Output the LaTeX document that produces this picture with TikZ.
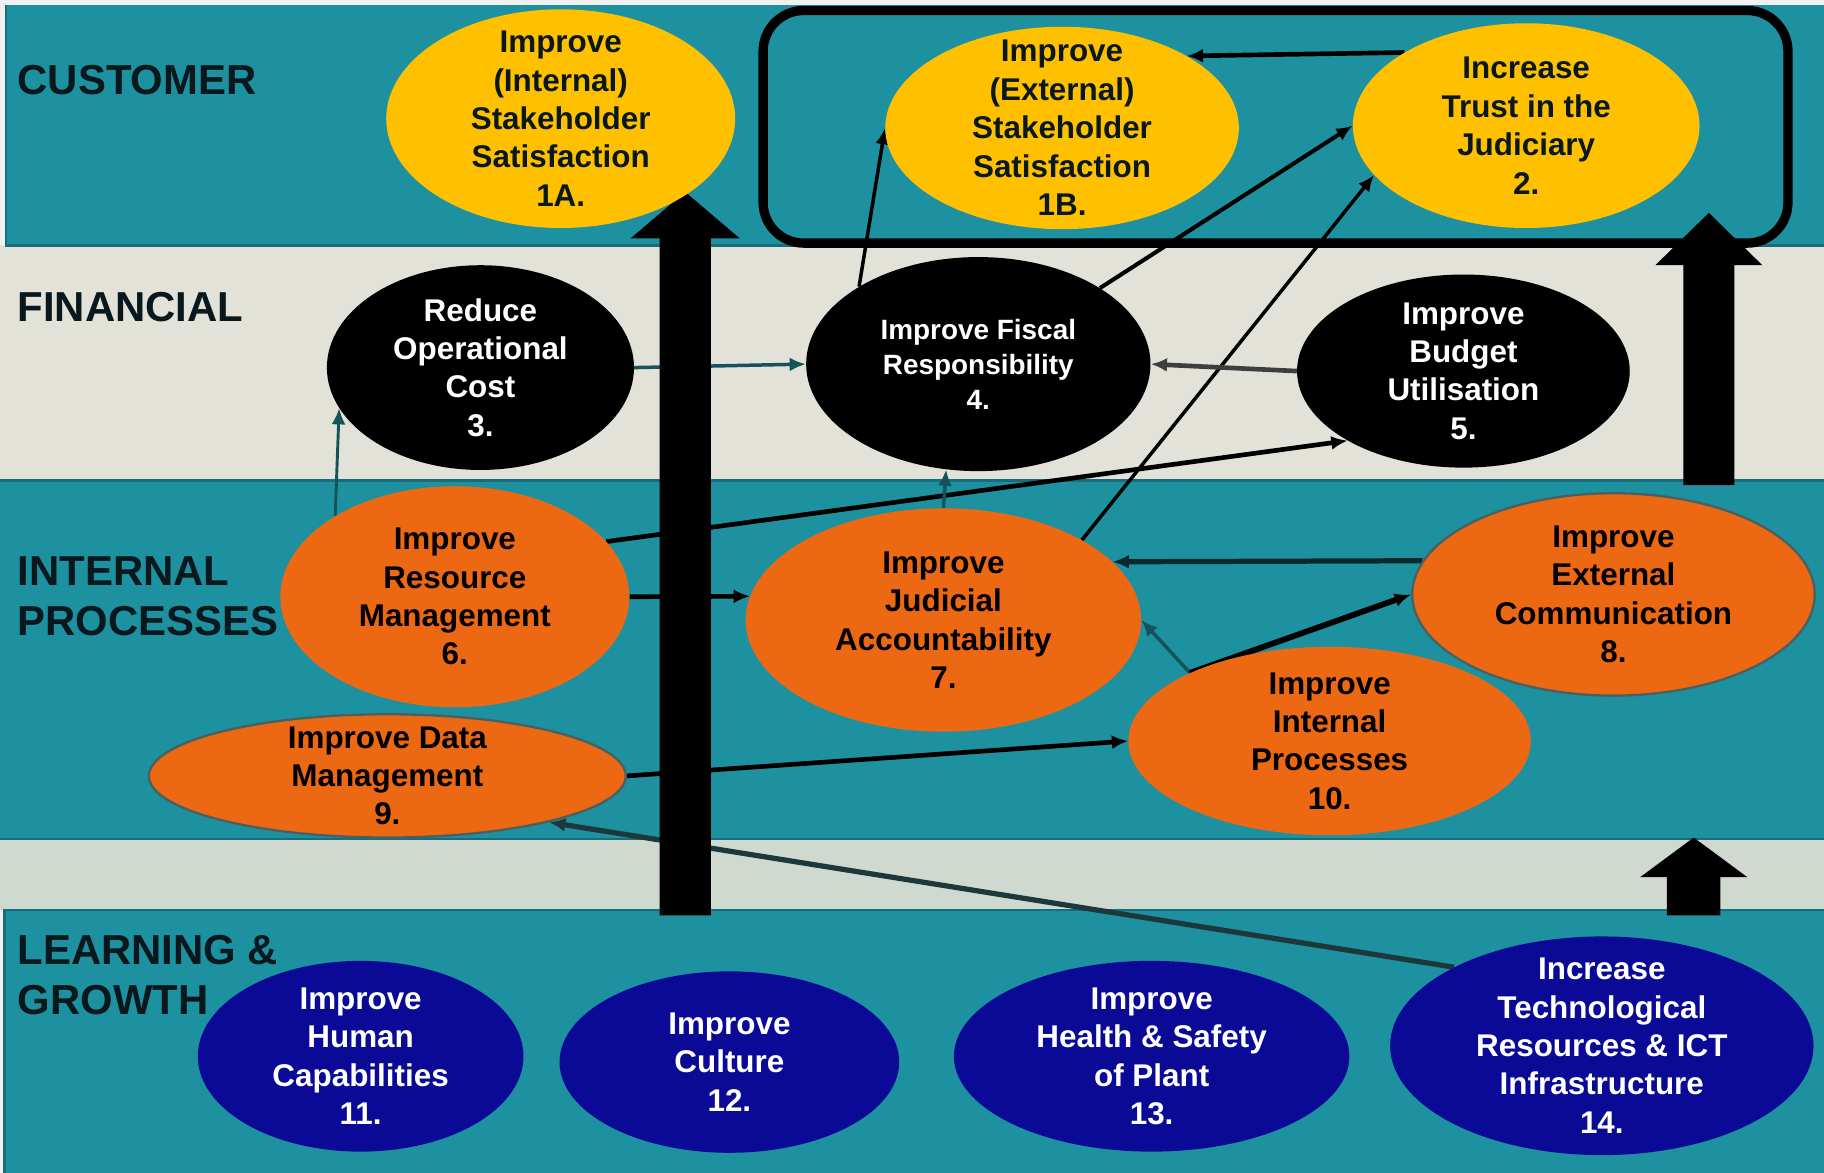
\documentclass[tikz,border=0pt]{standalone}
\usepackage{fontspec}
\setmainfont{Liberation Sans}
\usetikzlibrary{arrows.meta,shapes.geometric}

\definecolor{bandteal}{RGB}{30,145,160}
\definecolor{bandedge}{RGB}{22,110,124}
\definecolor{bandgrey}{RGB}{226,226,217}
\definecolor{bandpale}{RGB}{208,217,208}
\definecolor{goalyellow}{RGB}{255,192,0}
\definecolor{goalorange}{RGB}{236,104,18}
\definecolor{goalblue}{RGB}{10,10,150}
\definecolor{linkteal}{RGB}{20,82,92}
\definecolor{linkgrey}{RGB}{62,62,62}
\definecolor{linkdark}{RGB}{10,40,46}
\definecolor{linkslate}{RGB}{28,56,58}
\definecolor{labelink}{RGB}{8,24,28}

\pgfdeclarelayer{bg}
\pgfsetlayers{bg,main}

\begin{document}
\begin{tikzpicture}[x=1pt,y=-1pt,
  goal/.style={ellipse, inner sep=-30pt, align=center,
    font=\fontsize{27}{33}\selectfont\bfseries},
  customer/.style={goal, fill=goalyellow, text=labelink},
  financial/.style={goal, fill=black, text=white},
  process/.style={goal, fill=goalorange, text=black},
  rimmed/.style={draw=linkslate!80, line width=2pt},
  growth/.style={goal, fill=goalblue, text=white},
  perspective/.style={anchor=west, inner sep=0pt, align=left, text=labelink,
    font=\fontsize{36}{43}\selectfont\bfseries},
  link/.style={-{Latex[length=14pt,width=12pt]}, line width=4pt}
]
\useasboundingbox (0,0) rectangle (1568,1008);

% Perspective names
\node[perspective] (customer) at (15,69) {CUSTOMER};
\node[perspective] (financial) at (15,264) {FINANCIAL};
\node[perspective] (internal) at (15,513) {INTERNAL\\PROCESSES};
\node[perspective] (learning) at (15,838) {LEARNING \&\\GROWTH};

% Customer goals (yellow)
\node[customer, minimum width=300pt, minimum height=188pt] (n1a) at (482,102)
  {Improve\\(Internal)\\Stakeholder\\Satisfaction\\1A.};
\node[customer, minimum width=304pt, minimum height=174pt] (n1b) at (913,110)
  {Improve\\(External)\\Stakeholder\\Satisfaction\\1B.};
\node[customer, minimum width=298pt, minimum height=176pt] (n2) at (1312,108)
  {Increase\\Trust in the\\Judiciary\\2.};

% Financial goals (black)
\node[financial, minimum width=264pt, minimum height=176pt] (n3) at (413,316)
  {Reduce\\Operational\\Cost\\3.};
\node[financial, minimum width=296pt, minimum height=184pt,
  font=\fontsize{24}{30}\selectfont\bfseries] (n4) at (841,313)
  {Improve Fiscal\\Responsibility\\4.};
\node[financial, minimum width=286pt, minimum height=166pt] (n5) at (1258,319)
  {Improve\\Budget\\Utilisation\\5.};

% Internal process goals (orange)
\node[process, minimum width=300pt, minimum height=190pt] (n6) at (391,513)
  {Improve\\Resource\\Management\\6.};
\node[process, minimum width=340pt, minimum height=192pt] (n7) at (811,533)
  {Improve\\Judicial\\Accountability\\7.};
\node[process, rimmed, minimum width=346pt, minimum height=174pt] (n8) at (1387,511)
  {Improve\\External\\Communication\\8.};
\node[process, rimmed, minimum width=410pt, minimum height=106pt] (n9) at (333,667)
  {Improve Data\\Management\\9.};
\node[process, minimum width=346pt, minimum height=162pt] (n10) at (1143,637)
  {Improve\\Internal\\Processes\\10.};

% Learning and growth goals (blue)
\node[growth, minimum width=280pt, minimum height=164pt] (n11) at (310,908)
  {Improve\\Human\\Capabilities\\11.};
\node[growth, minimum width=292pt, minimum height=156pt] (n12) at (627,913)
  {Improve\\Culture\\12.};
\node[growth, minimum width=340pt, minimum height=164pt] (n13) at (990,908)
  {Improve\\Health \& Safety\\of Plant\\13.};
\node[growth, minimum width=364pt, minimum height=188pt] (n14) at (1377,899)
  {Increase\\Technological\\Resources \& ICT\\Infrastructure\\14.};

\begin{pgfonlayer}{bg}
% Bands
\fill[black!6] (0,0) rectangle (1568,1008);
\fill[bandteal] (5,4) rectangle (1568,211);
\fill[bandgrey] (0,211) rectangle (1568,413);
\fill[bandteal] (0,413) rectangle (1568,721);
\fill[bandpale] (0,721) rectangle (1568,782);
\fill[bandteal] (4,782) rectangle (1568,1008);
\draw[bandedge, line width=2pt] (5,4) -- (5,211) -- (1568,211);
\draw[bandedge, line width=2pt] (0,413) -- (1568,413);
\draw[bandedge, line width=2pt] (0,721) -- (1568,721);
\draw[bandedge, line width=2pt] (4,1008) -- (4,782) -- (1568,782);

% Box round the outcome goals
\draw[line width=8pt, rounded corners=35pt] (656,9) rectangle (1537,209);

% Links
\draw[link, linkteal, line width=3pt] (n3.east) -- (n4.west);
\draw[link, linkteal, line width=2.5pt] (n6.146) -- (n3.196);
\draw[link] (n6.20) -- (n5.211);
\draw[link] (n6.east) -- (n7.173);
\draw[link, linkteal, line width=3pt] (n7.north) -- (n4.253);
\draw[link, line width=3pt] (n7.30) -- (n2.198);
\draw[link, line width=3pt] (n4.147) -- (n1b.west);
\draw[link, line width=3.5pt] (n4.32) -- (n2.west);
\draw[link] (n2.149) -- (n1b.30);
\draw[link, linkgrey] (n5.west) -- (n4.east);
\draw[link, linkdark, line width=4.5pt] (n8.170) -- (n7.19);
\draw[link, linkteal, line width=3pt] (n10.154) -- (n7.east);
\draw[link, line width=5pt] (n10.154) -- (n8.west);
\draw[link] (n9.east) -- (n10.west);
\draw[link, linkslate, line width=4.5pt] (n14.152) -- (n9.344);

% Upward block arrows
\fill (567,787) -- (567,205) -- (542,205) -- (589,165) -- (636,205)
  -- (611,205) -- (611,787) -- cycle;
\fill (1447,417) -- (1447,228) -- (1423,228) -- (1469,183) -- (1515,228)
  -- (1491,228) -- (1491,417) -- cycle;
\fill (1433,787) -- (1433,754) -- (1410,754) -- (1456,720) -- (1502,754)
  -- (1479,754) -- (1479,787) -- cycle;
\end{pgfonlayer}
\end{tikzpicture}
\end{document}
